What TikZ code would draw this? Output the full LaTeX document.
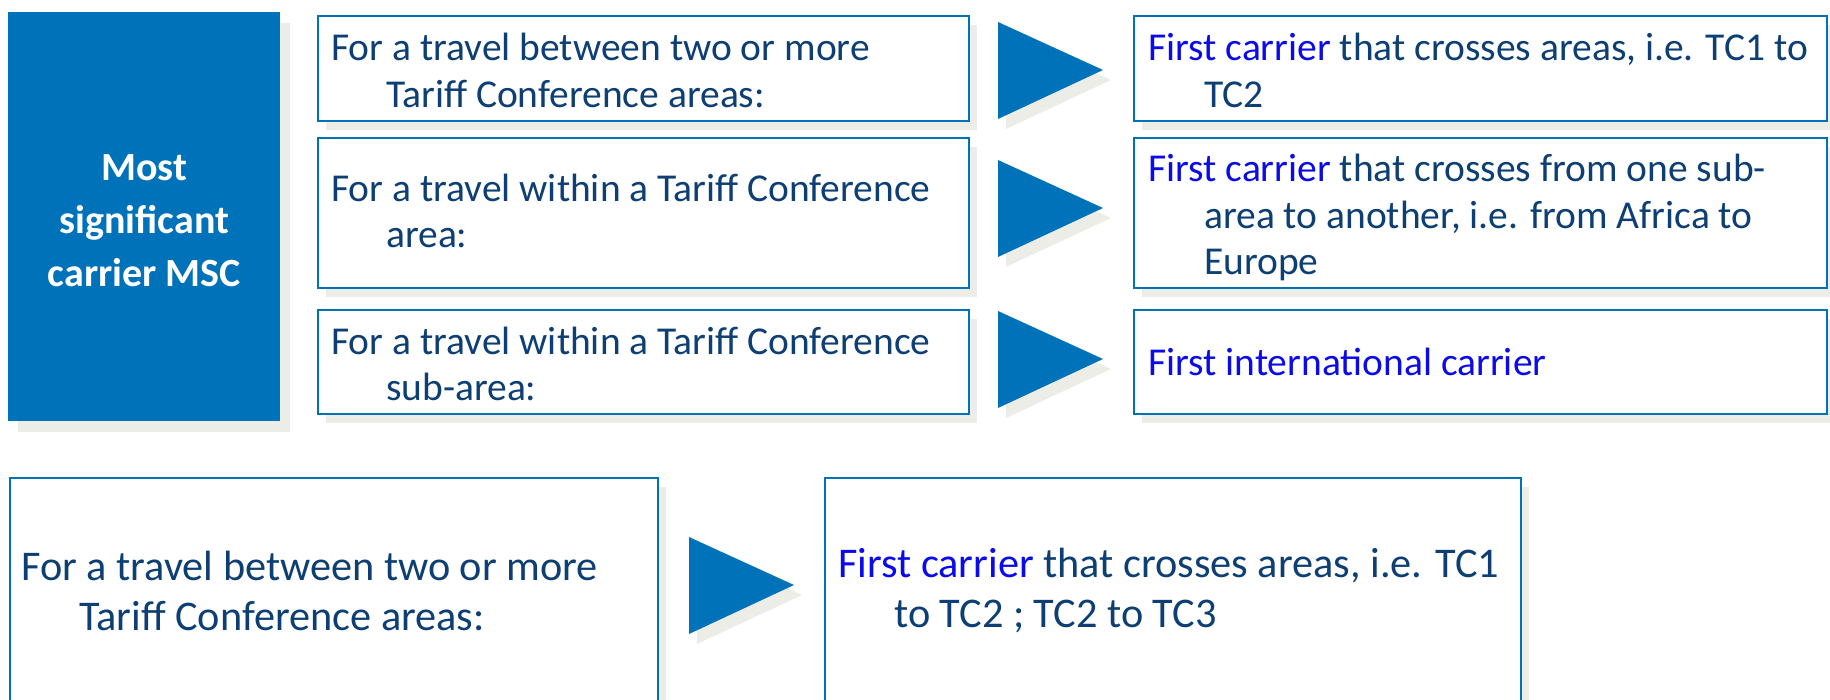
\documentclass[tikz,border=0pt]{standalone}
\usepackage{fontspec}
\setmainfont{Carlito}
\usetikzlibrary{shadows}
\definecolor{mscblue}{RGB}{0,114,186}
\definecolor{navy}{RGB}{13,63,116}
\definecolor{hl}{RGB}{10,10,235}
\definecolor{shade}{RGB}{237,237,232}
\tikzset{
  box/.style={draw=mscblue, line width=1.6pt, fill=white, anchor=north west, inner sep=0pt,
    drop shadow={shadow xshift=8pt, shadow yshift=-9pt, fill=shade, opacity=1}},
  txt/.style={anchor=west, align=left, text=navy, font=\fontsize{39.5}{46.5}\selectfont, inner sep=0pt},
  txtb/.style={anchor=west, align=left, text=navy, font=\fontsize{42.3}{50}\selectfont, inner sep=0pt},
  arrowtri/.style={fill=mscblue},
  arrowshade/.style={fill=shade},
}
\newcommand{\hlt}[1]{\textcolor{hl}{#1}}
\begin{document}
\begin{tikzpicture}[x=1pt,y=-1pt]
\useasboundingbox (0,0) rectangle (1830,700);
% main blue box
\node[fill=mscblue, anchor=north west, minimum width=272pt, minimum height=409pt, inner sep=0pt,
  drop shadow={shadow xshift=10pt, shadow yshift=-11pt, fill=shade, opacity=1}] (msc) at (8,12) {};
\node[text=white, font=\fontsize{40}{53}\selectfont\bfseries, align=center] (msct) at ([yshift=-4pt]msc.center) {Most\\significant\\carrier MSC};
% middle boxes
\node[box, minimum width=651pt, minimum height=105pt] (q1) at (317,15) {};
\node[box, minimum width=651pt, minimum height=150pt] (q2) at (317,137) {};
\node[box, minimum width=651pt, minimum height=104pt] (q3) at (317,309) {};
\node[txt] (q1t) at ([xshift=14pt,yshift=-2pt]q1.west) {For a travel between two or more\\\hspace*{55pt}Tariff Conference areas:};
\node[txt] (q2t) at ([xshift=14pt,yshift=2pt]q2.west) {For a travel within a Tariff Conference\\\hspace*{55pt}area:};
\node[txt] (q3t) at ([xshift=14pt,yshift=-2pt]q3.west) {For a travel within a Tariff Conference\\\hspace*{55pt}sub-area:};
% right boxes
\node[box, minimum width=693pt, minimum height=105pt] (a1) at (1133,15) {};
\node[box, minimum width=693pt, minimum height=150pt] (a2) at (1133,137) {};
\node[box, minimum width=693pt, minimum height=104pt] (a3) at (1133,309) {};
\node[txt] (a1t) at ([xshift=15pt,yshift=-2pt]a1.west) {\hlt{First carrier} that crosses areas, i.e. TC1 to\\\hspace*{56pt}TC2};
\node[txt] (a2t) at ([xshift=15pt,yshift=-5pt]a2.west) {\hlt{First carrier} that crosses from one sub-\\\hspace*{56pt}area to another, i.e. from Africa to\\\hspace*{56pt}Europe};
\node[txt] (a3t) at ([xshift=15pt]a3.west) {\hlt{First international carrier}};
% triangles
\coordinate (t1) at (998,22);
\coordinate (t2) at (998,160);
\coordinate (t3) at (998,311);
\coordinate (tb) at (689,537);
\foreach \t in {t1,t2,t3,tb}{
  \fill[arrowshade] ([shift={(8,10)}]\t) -- ([shift={(113,58)}]\t) -- ([shift={(8,107)}]\t) -- cycle;
  \fill[arrowtri] (\t) -- ([shift={(105,48)}]\t) -- ([shift={(0,97)}]\t) -- cycle;
}
% bottom boxes
\node[box, minimum width=648pt, minimum height=226pt] (qb) at (9,477) {};
\node[box, minimum width=696pt, minimum height=226pt] (ab) at (824,477) {};
\node[txtb] (qbt) at ([xshift=12pt]qb.west) {For a travel between two or more\\\hspace*{58pt}Tariff Conference areas:};
\node[txtb] (abt) at ([xshift=14pt]ab.west) {\hlt{First carrier} that crosses areas, i.e. TC1\\\hspace*{56pt}to TC2 ; TC2 to TC3};
\end{tikzpicture}
\end{document}
